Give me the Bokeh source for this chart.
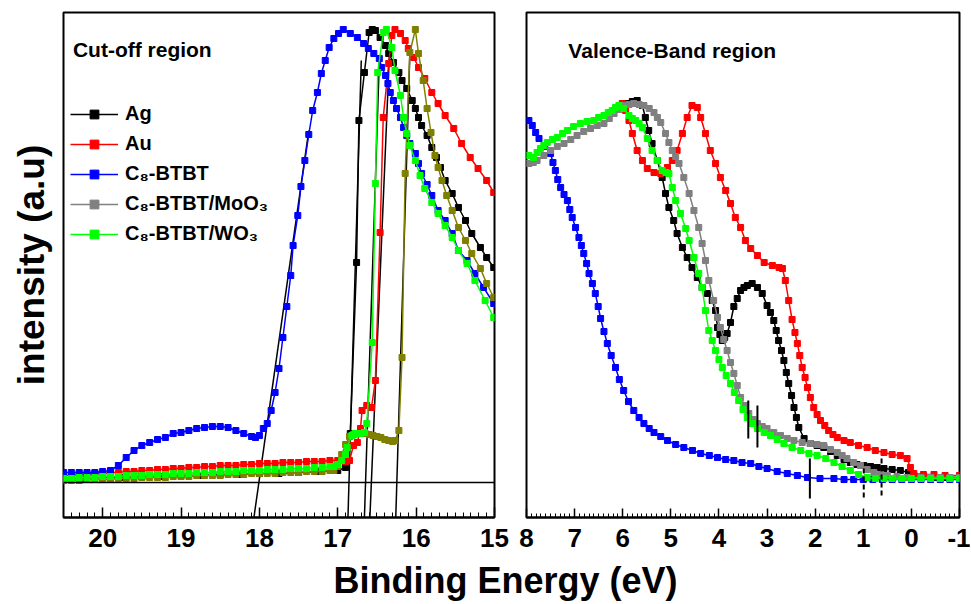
from bokeh.plotting import figure
from bokeh.models import (Range1d, SingleIntervalTicker, FixedTicker, Span, Legend,
                          LegendItem, Label, ColumnDataSource)
from bokeh.layouts import column, row
from bokeh.embed import file_html
from bokeh.resources import INLINE

FONT = "Liberation Sans"

# ---------------- data: cut-off region (binding energy eV, intensity a.u.) -------------
ag_cut = [(20.5, 4), (20.25, 4), (20.0, 5), (19.75, 5), (19.5, 6), (19.25, 6), (19.0, 7),
          (18.75, 7), (18.5, 8), (18.25, 8), (18.0, 9), (17.75, 9), (17.5, 10), (17.25, 11),
          (17.0, 12), (16.9, 15), (16.84, 49), (16.76, 220), (16.73, 362), (16.66, 410),
          (16.60, 450), (16.56, 453), (16.52, 452), (16.46, 445), (16.39, 437), (16.35, 429),
          (16.29, 420), (16.22, 410), (16.18, 402), (16.12, 394), (16.05, 382), (16.01, 374),
          (15.97, 365), (15.93, 357), (15.86, 347), (15.80, 335), (15.74, 325), (15.69, 315),
          (15.63, 302), (15.54, 289), (15.46, 275), (15.37, 262), (15.29, 249), (15.18, 235),
          (15.10, 225), (15.01, 215)]
au_cut = [(20.5, 7), (20.4, 7), (20.3, 8), (20.2, 8), (20.1, 9), (20.0, 9), (19.9, 10),
          (19.8, 10), (19.7, 11), (19.6, 11), (19.5, 12), (19.4, 12), (19.3, 13), (19.2, 13),
          (19.1, 14), (19.0, 14), (18.9, 15), (18.8, 15), (18.7, 16), (18.6, 16), (18.5, 17),
          (18.4, 17), (18.3, 17), (18.2, 18), (18.1, 18), (18.0, 19), (17.9, 19), (17.8, 19),
          (17.7, 20), (17.6, 20), (17.5, 20), (17.4, 21), (17.3, 21), (17.2, 21), (17.1, 22),
          (17.0, 22), (16.95, 22), (16.9, 21), (16.85, 22), (16.80, 37), (16.75, 40),
          (16.71, 54), (16.69, 72), (16.63, 77), (16.57, 75), (16.52, 102), (16.46, 250),
          (16.42, 365), (16.35, 419), (16.31, 447), (16.27, 453), (16.20, 449), (16.14, 442),
          (16.10, 434), (16.03, 425), (15.97, 415), (15.89, 404), (15.80, 390), (15.72, 379),
          (15.63, 367), (15.52, 354), (15.42, 339), (15.31, 325), (15.21, 314), (15.10, 302),
          (15.01, 290)]
btbt_cut = [(20.5, 10), (20.4, 10), (20.3, 10), (20.2, 10), (20.1, 10), (20.0, 11), (19.9, 12),
            (19.8, 17), (19.7, 25), (19.6, 32), (19.5, 37), (19.4, 40), (19.3, 43), (19.2, 45),
            (19.1, 49), (19.0, 50), (18.9, 52), (18.8, 54), (18.7, 55), (18.6, 56), (18.5, 56),
            (18.4, 55), (18.3, 52), (18.2, 49), (18.1, 46), (18.05, 45), (18.0, 47), (17.95, 54),
            (17.9, 59), (17.85, 72), (17.8, 90), (17.75, 114), (17.7, 145), (17.65, 176),
            (17.6, 207), (17.57, 237), (17.51, 267), (17.47, 296), (17.42, 322), (17.37, 348),
            (17.32, 372), (17.26, 390), (17.21, 409), (17.16, 422), (17.11, 435), (17.05, 444),
            (16.99, 449), (16.93, 453), (16.84, 449), (16.75, 445), (16.67, 439), (16.61, 434),
            (16.54, 429), (16.47, 424), (16.44, 415), (16.39, 407), (16.36, 399), (16.33, 390),
            (16.29, 382), (16.25, 374), (16.20, 365), (16.16, 355), (16.12, 347), (16.08, 339),
            (16.01, 329), (15.97, 319), (15.93, 309), (15.86, 298), (15.80, 287), (15.72, 272),
            (15.63, 262), (15.54, 249), (15.46, 232), (15.35, 222), (15.25, 209), (15.14, 195),
            (15.01, 179)]
moo3_cut = [(20.5, 2), (20.4, 2), (20.3, 2), (20.2, 3), (20.1, 3), (20.0, 3), (19.9, 3),
            (19.8, 4), (19.7, 4), (19.6, 4), (19.5, 5), (19.4, 5), (19.3, 5), (19.2, 5),
            (19.1, 6), (19.0, 6), (18.9, 6), (18.8, 7), (18.7, 7), (18.6, 7), (18.5, 7),
            (18.4, 8), (18.3, 8), (18.2, 8), (18.1, 9), (18.0, 9), (17.9, 9), (17.8, 9),
            (17.7, 10), (17.6, 10), (17.5, 10), (17.4, 11), (17.3, 11), (17.2, 11), (17.1, 12),
            (17.05, 12), (17.0, 16), (16.95, 28), (16.9, 38), (16.85, 46), (16.8, 48),
            (16.75, 49), (16.7, 49), (16.65, 49), (16.6, 48), (16.55, 47), (16.5, 46),
            (16.45, 45), (16.4, 43), (16.35, 42), (16.3, 41), (16.27, 42), (16.22, 52),
            (16.18, 125), (16.14, 309), (16.08, 430), (16.01, 453), (15.97, 429), (15.91, 402),
            (15.86, 374), (15.81, 350), (15.76, 327), (15.72, 315), (15.67, 302), (15.61, 287),
            (15.54, 272), (15.46, 255), (15.37, 242), (15.29, 229), (15.18, 214), (15.10, 199),
            (15.01, 185)]
wo3_cut = [(20.5, 4), (20.4, 4), (20.3, 5), (20.2, 5), (20.1, 5), (20.0, 6), (19.9, 6),
           (19.8, 6), (19.7, 7), (19.6, 7), (19.5, 7), (19.4, 8), (19.3, 8), (19.2, 8),
           (19.1, 9), (19.0, 9), (18.9, 9), (18.8, 10), (18.7, 10), (18.6, 10), (18.5, 11),
           (18.4, 11), (18.3, 11), (18.2, 12), (18.1, 12), (18.0, 12), (17.9, 13), (17.8, 13),
           (17.7, 13), (17.6, 14), (17.5, 14), (17.4, 14), (17.3, 15), (17.2, 15), (17.1, 16),
           (17.05, 16), (17.0, 18), (16.95, 22), (16.9, 28), (16.88, 35), (16.82, 47),
           (16.78, 49), (16.71, 49), (16.66, 50), (16.63, 59), (16.56, 140), (16.52, 299),
           (16.49, 410), (16.42, 450), (16.38, 453), (16.31, 435), (16.27, 412), (16.20, 387),
           (16.16, 365), (16.12, 349), (16.08, 337), (16.01, 322), (15.95, 307), (15.89, 294),
           (15.80, 280), (15.72, 269), (15.63, 257), (15.54, 245), (15.46, 232), (15.35, 219),
           (15.25, 202), (15.12, 182), (15.01, 165)]

# onset extrapolation lines (start E, start I, end E, end I)
tangents = [(18.07, -35, 17.37, 352), (16.87, -35, 16.70, 422), (16.66, -35, 16.47, 422),
            (16.59, -35, 16.34, 430), (16.26, -35, 16.08, 430)]

# ---------------- data: valence-band region ---------------------------------------------
ag_vb = [(5.98, 377), (5.91, 379), (5.80, 381), (5.70, 382), (5.59, 377), (5.53, 365),
         (5.46, 352), (5.39, 339), (5.28, 322), (5.18, 305), (5.11, 289), (5.04, 275),
         (4.94, 262), (4.87, 249), (4.76, 235), (4.66, 225), (4.56, 215), (4.45, 205),
         (4.35, 195), (4.24, 189), (4.14, 182), (4.07, 172), (4.03, 155), (3.98, 148),
         (3.93, 142), (3.88, 145), (3.83, 149), (3.76, 160), (3.69, 176), (3.62, 184),
         (3.55, 192), (3.48, 195), (3.41, 197), (3.31, 199), (3.20, 195), (3.10, 189),
         (3.00, 177), (2.93, 170), (2.86, 162), (2.81, 152), (2.76, 142), (2.70, 132),
         (2.65, 122), (2.60, 110), (2.55, 99), (2.49, 87), (2.44, 75), (2.39, 65), (2.34, 55),
         (2.23, 44), (2.10, 39), (1.96, 37), (1.82, 35), (1.68, 31), (1.54, 27), (1.40, 23),
         (1.27, 20), (1.13, 18), (0.99, 17), (0.85, 16), (0.71, 15), (0.57, 14), (0.40, 13),
         (0.23, 12), (0.06, 10), (-0.05, 7), (-0.25, 6), (-0.47, 5), (-0.7, 5), (-1.0, 5)]
au_vb = [(6.01, 379), (5.94, 372), (5.87, 362), (5.80, 349), (5.70, 332), (5.59, 322),
         (5.49, 314), (5.35, 310), (5.21, 309), (5.07, 315), (4.97, 322), (4.87, 332),
         (4.76, 349), (4.66, 365), (4.56, 377), (4.45, 375), (4.38, 365), (4.28, 349),
         (4.18, 332), (4.07, 319), (3.97, 305), (3.86, 292), (3.76, 279), (3.66, 265),
         (3.55, 255), (3.45, 242), (3.34, 234), (3.20, 227), (3.06, 220), (2.89, 217),
         (2.75, 215), (2.68, 214), (2.62, 202), (2.55, 182), (2.48, 163), (2.42, 150),
         (2.37, 139), (2.32, 127), (2.27, 115), (2.21, 105), (2.16, 95), (2.10, 85),
         (2.03, 75), (1.96, 68), (1.89, 62), (1.80, 57), (1.72, 52), (1.63, 48), (1.54, 45),
         (1.40, 42), (1.27, 40), (1.10, 37), (0.92, 35), (0.75, 32), (0.57, 30), (0.40, 28),
         (0.23, 27), (0.09, 24), (0.02, 15), (-0.05, 9), (-0.25, 8), (-0.47, 8), (-0.7, 7),
         (-1.0, 7)]
btbt_vb = [(7.95, 362), (7.88, 357), (7.81, 350), (7.74, 344), (7.62, 336), (7.50, 329),
           (7.45, 320), (7.40, 312), (7.35, 303), (7.29, 295), (7.22, 288), (7.15, 282),
           (7.10, 273), (7.05, 265), (6.98, 255), (6.91, 245), (6.86, 237), (6.81, 229),
           (6.75, 219), (6.70, 209), (6.63, 199), (6.57, 189), (6.51, 176), (6.46, 164),
           (6.39, 151), (6.32, 139), (6.24, 127), (6.15, 115), (6.07, 103), (5.98, 92),
           (5.88, 81), (5.77, 72), (5.66, 65), (5.56, 59), (5.45, 54), (5.35, 50), (5.21, 46),
           (5.07, 42), (4.90, 38), (4.73, 35), (4.55, 32), (4.38, 29), (4.20, 27), (4.03, 25),
           (3.86, 23), (3.69, 22), (3.52, 20), (3.34, 19), (3.17, 16), (3.00, 14), (2.79, 11),
           (2.58, 9), (2.37, 7), (2.16, 5), (1.90, 4), (1.61, 4), (1.40, 3), (1.20, 3),
           (1.0, 3), (0.8, 3), (0.6, 3), (0.4, 3), (0.2, 3), (0.0, 3), (-0.2, 3), (-0.4, 3),
           (-0.6, 3), (-0.8, 3), (-1.0, 3)]
moo3_vb = [(7.95, 319), (7.86, 320), (7.78, 322), (7.64, 327), (7.50, 332), (7.36, 336),
           (7.22, 339), (7.08, 343), (6.95, 347), (6.81, 351), (6.67, 354), (6.53, 357),
           (6.39, 359), (6.28, 364), (6.18, 369), (6.08, 373), (5.98, 377), (5.87, 378),
           (5.77, 379), (5.66, 378), (5.56, 377), (5.45, 374), (5.35, 370), (5.28, 365),
           (5.21, 360), (5.11, 349), (5.04, 340), (4.97, 332), (4.90, 326), (4.83, 319),
           (4.73, 305), (4.62, 289), (4.52, 272), (4.42, 255), (4.35, 239), (4.28, 222),
           (4.21, 202), (4.11, 182), (4.03, 165), (3.97, 155), (3.90, 143), (3.83, 132),
           (3.76, 120), (3.69, 109), (3.62, 97), (3.55, 85), (3.46, 77), (3.38, 69), (3.29, 63),
           (3.20, 59), (3.10, 56), (3.00, 54), (2.86, 50), (2.72, 47), (2.58, 44), (2.44, 42),
           (2.27, 40), (2.10, 39), (1.96, 38), (1.82, 37), (1.68, 33), (1.54, 30), (1.44, 27),
           (1.34, 24), (1.20, 20), (1.06, 17), (0.92, 13), (0.78, 10), (0.64, 8), (0.50, 7),
           (0.30, 6), (0.09, 5), (-0.2, 5), (-0.4, 5), (-0.6, 5), (-0.8, 5), (-1.0, 5)]
wo3_vb = [(7.95, 327), (7.85, 325), (7.78, 330), (7.71, 334), (7.64, 337), (7.57, 340),
          (7.46, 343), (7.36, 345), (7.25, 349), (7.15, 352), (7.02, 356), (6.88, 359),
          (6.74, 361), (6.60, 362), (6.50, 365), (6.39, 367), (6.30, 370), (6.22, 372),
          (6.15, 375), (6.08, 377), (5.98, 374), (5.87, 367), (5.80, 364), (5.73, 362),
          (5.66, 359), (5.59, 355), (5.49, 344), (5.39, 332), (5.28, 322), (5.18, 312),
          (5.10, 310), (5.04, 309), (4.97, 295), (4.90, 282), (4.80, 269), (4.69, 254),
          (4.62, 242), (4.52, 225), (4.42, 209), (4.35, 195), (4.28, 172), (4.21, 152),
          (4.14, 142), (4.07, 132), (4.00, 123), (3.93, 115), (3.85, 107), (3.76, 99),
          (3.68, 90), (3.59, 82), (3.50, 73), (3.41, 65), (3.30, 59), (3.20, 54), (3.06, 50),
          (2.93, 47), (2.79, 43), (2.65, 39), (2.48, 35), (2.30, 32), (2.13, 29), (1.96, 27),
          (1.78, 24), (1.61, 20), (1.44, 16), (1.27, 12), (1.10, 8), (0.92, 5), (0.75, 4),
          (0.57, 4), (0.4, 4), (0.2, 4), (0.0, 4), (-0.2, 4), (-0.4, 4), (-0.6, 4), (-0.8, 4),
          (-1.0, 4)]

# onset markers in the valence band panel (E, I from, I to, dashed?)
vb_marks = [(3.39, 82, 44, False), (3.20, 77, 35, False), (2.11, 24, -16, False),
            (0.99, 14, -15, True), (0.62, 24, -15, True)]

labels = ["Ag", "Au", "C\u2088-BTBT", "C\u2088-BTBT/MoO\u2083", "C\u2088-BTBT/WO\u2083"]
colors_cut = ["#000000", "#ff0000", "#0000ff", "#808000", "#00ff00"]
colors_vb = ["#000000", "#ff0000", "#0000ff", "#808080", "#00ff00"]
x_cut = (20.5, 15.0)
x_vb = (8.0, -1.0)
y_span = (-35, 470)


def style(p, major_in, minor_in):
    p.grid.visible = False
    p.outline_line_color = "black"
    p.outline_line_width = 2
    p.background_fill_color = "white"
    p.border_fill_color = "white"
    ax = p.xaxis[0]
    ax.ticker = SingleIntervalTicker(interval=1, num_minor_ticks=10)
    ax.axis_line_width = 2
    ax.major_tick_in = major_in
    ax.major_tick_out = 0
    ax.minor_tick_in = minor_in
    ax.minor_tick_out = 0
    ax.major_tick_line_width = 1.5
    ax.minor_tick_line_width = 1
    ax.major_label_text_font = FONT
    ax.major_label_text_font_style = "bold"
    ax.major_label_text_font_size = "26px"
    ax.major_label_text_color = "black"
    ax.major_label_standoff = 11


left = figure(width=510, height=559, x_range=Range1d(*x_cut), y_range=Range1d(*y_span),
              output_backend="svg", toolbar_location=None,
              min_border_left=63, min_border_right=16, min_border_top=12, min_border_bottom=42)
style(left, 10, 5)
ya = left.yaxis[0]
ya.ticker = FixedTicker(ticks=[])
ya.major_tick_in = 0
ya.major_tick_out = 0
ya.minor_tick_in = 0
ya.minor_tick_out = 0
ya.axis_line_color = None
ya.axis_label = "intensity (a.u)"
ya.axis_label_text_font = FONT
ya.axis_label_text_font_style = "bold"
ya.axis_label_text_font_size = "37px"
ya.axis_label_text_color = "black"
ya.axis_label_standoff = 12

left.add_layout(Span(location=0, dimension="width", line_color="black", line_width=1.5))

src_t = ColumnDataSource(data=dict(x0=[t[0] for t in tangents], y0=[t[1] for t in tangents],
                                   x1=[t[2] for t in tangents], y1=[t[3] for t in tangents]))
left.segment("x0", "y0", "x1", "y1", source=src_t, line_color="black", line_width=1.5)

items = []
for name, data, col in zip(labels, [ag_cut, au_cut, btbt_cut, moo3_cut, wo3_cut], colors_cut):
    xs = [d[0] for d in data]
    ys = [d[1] for d in data]
    lr = left.line(xs, ys, line_color=col, line_width=1.5)
    sr = left.scatter(xs, ys, marker="square", size=6, fill_color=col, line_color=col)
    if data is moo3_cut:
        # the legend shows the MoO3 sample in grey: use its valence-band series,
        # which lies outside this panel's energy window, as the legend glyph
        gx = [d[0] for d in moo3_vb]
        gy = [d[1] for d in moo3_vb]
        pl = left.line(gx, gy, line_color="#808080", line_width=1.5)
        ps = left.scatter(gx, gy, marker="square", size=6, fill_color="#808080",
                          line_color="#808080")
        items.append(LegendItem(label=name, renderers=[pl, ps]))
    else:
        items.append(LegendItem(label=name, renderers=[lr, sr]))

legend = Legend(items=items, location=(7, 272), label_text_font=FONT,
                label_text_font_style="bold", label_text_font_size="20px",
                label_text_color="black", glyph_width=48, glyph_height=22, label_height=22,
                label_standoff=7, spacing=7, padding=0, margin=0, border_line_color=None,
                background_fill_alpha=0)
left.add_layout(legend)
left.add_layout(Label(x=20.38, y=433, text="Cut-off region", text_font=FONT,
                      text_font_style="bold", text_font_size="21px", text_color="black",
                      text_baseline="middle"))

right = figure(width=460, height=559, x_range=Range1d(*x_vb), y_range=Range1d(*y_span),
               output_backend="svg", toolbar_location=None,
               min_border_left=16, min_border_right=11, min_border_top=12, min_border_bottom=42)
style(right, 9, 4)
right.xaxis[0].major_label_overrides = {-1: "-1"}
right.yaxis.visible = False

for data, col in zip([ag_vb, au_vb, btbt_vb, moo3_vb, wo3_vb], colors_vb):
    xs = [d[0] for d in data]
    ys = [d[1] for d in data]
    right.line(xs, ys, line_color=col, line_width=1.5)
    right.scatter(xs, ys, marker="square", size=6, fill_color=col, line_color=col)

solid = [m for m in vb_marks if not m[3]]
dashed = [m for m in vb_marks if m[3]]
right.segment([m[0] for m in solid], [m[1] for m in solid], [m[0] for m in solid],
              [m[2] for m in solid], line_color="black", line_width=2)
right.segment([m[0] for m in dashed], [m[1] for m in dashed], [m[0] for m in dashed],
              [m[2] for m in dashed], line_color="black", line_width=2, line_dash="5 3")
right.add_layout(Label(x=7.13, y=432, text="Valence-Band region", text_font=FONT,
                       text_font_style="bold", text_font_size="21px", text_color="black",
                       text_baseline="middle"))

bottom = figure(width=970, height=45, x_range=Range1d(0, 970), y_range=Range1d(0, 45),
                output_backend="svg", toolbar_location=None, min_border=0)
bottom.axis.visible = False
bottom.grid.visible = False
bottom.outline_line_color = None
bottom.add_layout(Label(x=505, y=24, text="Binding Energy (eV)", text_align="center",
                        text_baseline="middle", text_font=FONT, text_font_style="bold",
                        text_font_size="36px", text_color="black"))

layout = column(row(left, right), bottom)
open("out.html", "w").write(file_html(layout, INLINE))
